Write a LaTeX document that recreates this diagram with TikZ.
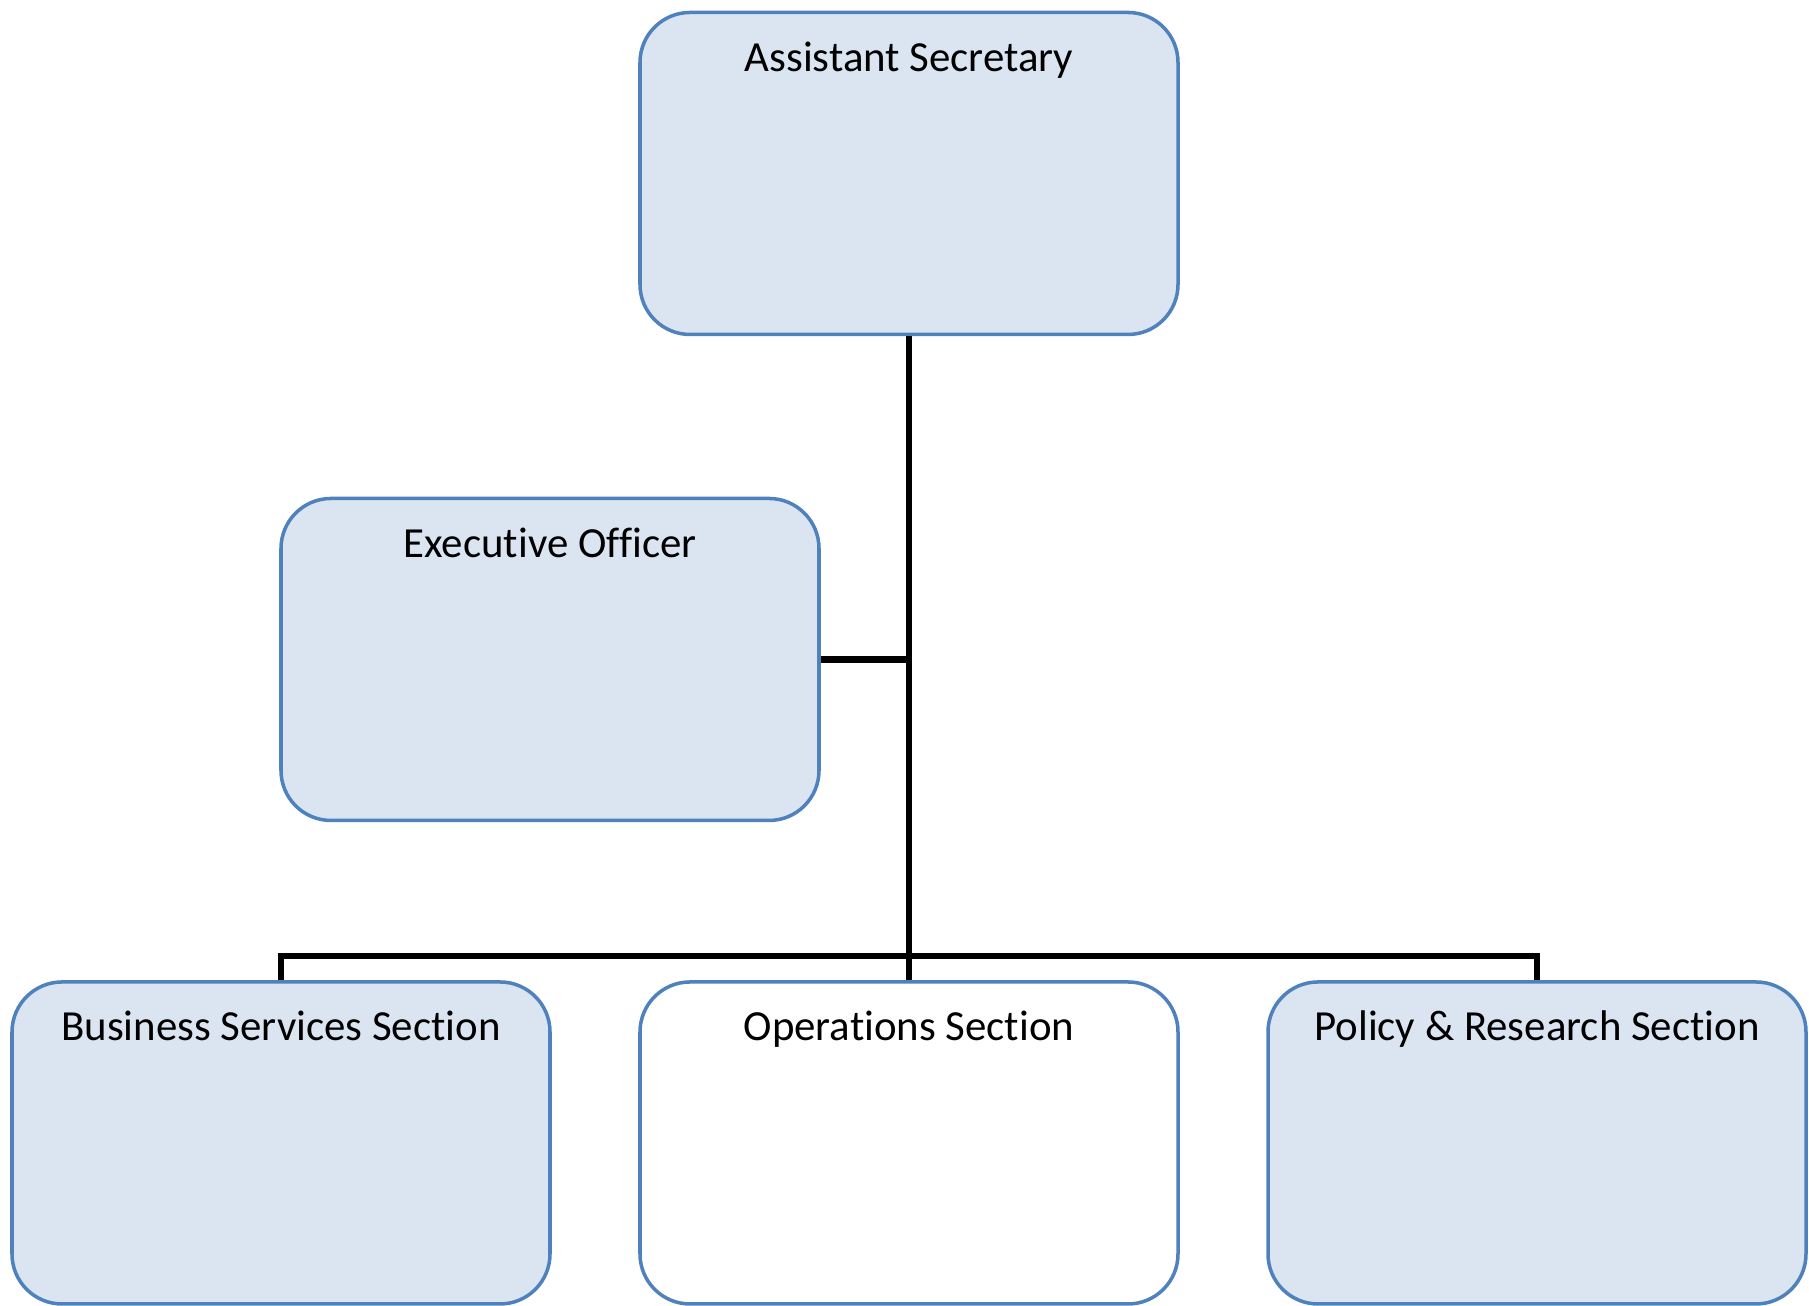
\documentclass[tikz,border=0pt]{standalone}
\usepackage{fontspec}
\setmainfont{Carlito}[Ligatures=NoCommon]
\usepackage{tikz}

\definecolor{boxfill}{RGB}{219,229,241}
\definecolor{boxline}{RGB}{79,129,189}

\tikzset{
    unit/.style={rectangle, rounded corners=0.5cm, draw=boxline, line width=1pt,
        fill=boxfill, minimum width=5.38cm, inner sep=0pt,
        text height=0.59cm, text depth=2.63cm, font=\fontsize{12.2}{14}\selectfont},
    plain unit/.style={unit, fill=white},
    link/.style={draw=black, line width=1.9pt}
}

\begin{document}
\begin{tikzpicture}
    \useasboundingbox (0,0) rectangle (18.09,13.06);

    \node[unit] (as) at (9.09, 11.325) {Assistant Secretary};
    \node[unit] (eo) at (5.50, 6.465) {Executive Officer};
    \node[unit] (bs) at (2.81, 1.63) {Business Services Section};
    \node[plain unit] (ops) at (9.09, 1.63) {Operations Section};
    \node[unit] (pr) at (15.37, 1.63) {Policy \& Research Section};

    \coordinate (bar) at (9.09, 3.50);

    \draw[link] (as.south) -- (ops.north)
          (eo.east) -- (eo.east -| as.south)
          (bs.north) |- (bar) -| (pr.north)
          ;
\end{tikzpicture}
\end{document}
